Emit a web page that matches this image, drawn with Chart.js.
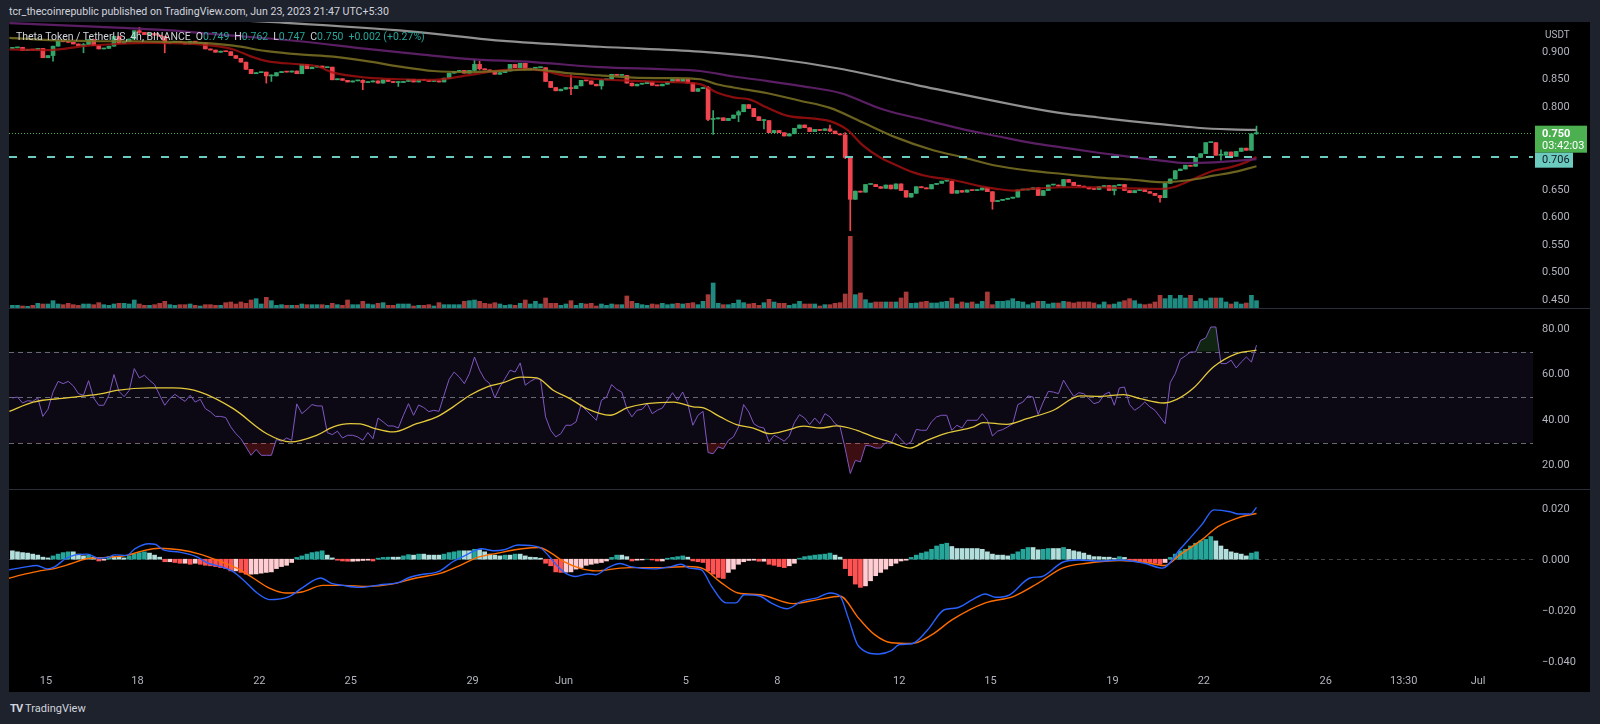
<!DOCTYPE html>
<html>
<head>
<meta charset="utf-8">
<title>THETAUSDT 4h</title>
<script src="https://cdn.jsdelivr.net/npm/chart.js@4.4.1/dist/chart.umd.min.js"></script>
<style>
  html, body { margin: 0; padding: 0; }
  body { width: 1600px; height: 724px; background: #1e222d; overflow: hidden; position: relative;
         font-family: Roboto, "Liberation Sans", sans-serif; }
  #pub { position: absolute; left: 9px; top: 5px; font-size: 10.6px; color: #d1d4dc; }
  #frame { position: absolute; left: 9px; top: 22px; width: 1581px; height: 670px; background: #000; }
  #frame canvas { position: absolute; left: 0; }
  .sep { position: absolute; left: 0; width: 1581px; height: 1px; background: #2a2e39; }
  #legend { position: absolute; left: 7px; top: 8px; font-size: 10.5px; color: #d1d4dc; white-space: nowrap; z-index: 2; }
  #legend span { margin-left: 5px; }
  #legend b { font-weight: normal; color: #26a69a; }
  #usdt { position: absolute; left: 1536px; top: 7px; font-size: 10px; color: #b2b5be; z-index: 2; }
  #brand { position: absolute; left: 10px; top: 702px; font-size: 11px; color: #d1d4dc; }
  #brand i { font-style: normal; font-weight: bold; letter-spacing: -1px; margin-right: 3px; }
</style>
</head>
<body>
<div id="pub">tcr_thecoinrepublic published on TradingView.com, Jun 23, 2023 21:47 UTC+5:30</div>
<div id="frame">
  <canvas id="cPrice" width="1581" height="286" style="top:0"></canvas>
  <div id="legend">Theta Token / TetherUS, 4h, BINANCE<span>O<b>0.749</b></span><span>H<b>0.762</b></span><span>L<b>0.747</b></span><span>C<b>0.750</b></span><span><b>+0.002 (+0.27%)</b></span></div>
  <div id="usdt">USDT</div>
  <div class="sep" style="top:286px"></div>
  <canvas id="cRsi" width="1581" height="180" style="top:287px"></canvas>
  <div class="sep" style="top:467px"></div>
  <canvas id="cMacd" width="1581" height="202" style="top:468px"></canvas>
</div>
<div id="brand"><i>TV</i>TradingView</div>

<script>
// 4h candles, first one opens May 13 21:30 (UTC+5:30); days counted from May 15 00:00
const firstBarDay = -2 + 21.5 / 24;
const barsPerDay = 6;

// close of every 4h candle
const closes = [
  0.904, 0.905, 0.899, 0.901, 0.900, 0.903, 0.886,
  0.890, 0.907, 0.916, 0.915, 0.914, 0.911,
  0.908, 0.910, 0.919, 0.908, 0.902, 0.903,
  0.907, 0.925, 0.912, 0.915, 0.920, 0.935,
  0.932, 0.928, 0.930, 0.927, 0.925, 0.912,
  0.914, 0.916, 0.914, 0.911, 0.916, 0.912,
  0.913, 0.902, 0.900, 0.896, 0.898, 0.897,
  0.890, 0.885, 0.878, 0.865, 0.857, 0.859,
  0.860, 0.853, 0.853, 0.859, 0.861, 0.860,
  0.862, 0.857, 0.874, 0.866, 0.869, 0.871,
  0.868, 0.869, 0.846, 0.848, 0.845, 0.842,
  0.844, 0.845, 0.841, 0.842, 0.844, 0.840,
  0.846, 0.843, 0.841, 0.841, 0.843, 0.847,
  0.842, 0.846, 0.845, 0.843, 0.844, 0.842,
  0.849, 0.858, 0.861, 0.863, 0.858, 0.863,
  0.874, 0.866, 0.864, 0.862, 0.856, 0.859,
  0.862, 0.874, 0.868, 0.876, 0.864, 0.867,
  0.868, 0.868, 0.843, 0.832, 0.826, 0.829,
  0.832, 0.830, 0.835, 0.845, 0.844, 0.838,
  0.835, 0.846, 0.847, 0.856, 0.854, 0.854,
  0.840, 0.835, 0.838, 0.839, 0.842, 0.836,
  0.835, 0.838, 0.842, 0.847, 0.843, 0.847,
  0.840, 0.825, 0.830, 0.832, 0.774, 0.775,
  0.777, 0.772, 0.776, 0.782, 0.788, 0.801,
  0.794, 0.779, 0.772, 0.772, 0.750, 0.754,
  0.750, 0.744, 0.748, 0.758, 0.764, 0.759,
  0.752, 0.756, 0.754, 0.757, 0.753, 0.748,
  0.746, 0.705, 0.629,
  0.644, 0.642, 0.656, 0.656, 0.652, 0.649, 0.655, 0.648, 0.657, 0.645,
  0.633, 0.640, 0.652, 0.650, 0.648, 0.656, 0.658, 0.662, 0.662, 0.640,
  0.645, 0.642, 0.646, 0.645, 0.646, 0.650, 0.643, 0.625, 0.627, 0.629,
  0.631, 0.633, 0.646, 0.646, 0.647, 0.650, 0.636, 0.645, 0.655, 0.655,
  0.653, 0.665, 0.660, 0.654, 0.653, 0.651, 0.648, 0.647, 0.652, 0.654,
  0.645, 0.654, 0.656, 0.645, 0.641, 0.645, 0.647, 0.643, 0.640, 0.636,
  0.632, 0.658, 0.666, 0.681, 0.684, 0.691, 0.689, 0.705, 0.712, 0.732,
  0.732, 0.709, 0.709, 0.715, 0.707, 0.716, 0.722, 0.718, 0.748, 0.750
];
const firstOpen = 0.903;

// candles whose wicks stick out visibly: [bar, low, high]
const wicks = [
  [8, 0.880, 0.907], [14, 0.895, 0.912], [25, 0.930, 0.941], [30, 0.895, 0.925],
  [50, 0.840, 0.860], [51, 0.843, 0.855], [69, 0.828, 0.846], [76, 0.834, 0.843],
  [91, 0.862, 0.883], [92, 0.864, 0.880], [110, 0.819, 0.855], [116, 0.829, 0.847],
  [137, 0.772, 0.834], [138, 0.747, 0.790], [143, 0.770, 0.790], [148, 0.757, 0.774],
  [161, 0.752, 0.764], [164, 0.703, 0.750], [165, 0.572, 0.705], [193, 0.611, 0.643],
  [217, 0.637, 0.654], [226, 0.624, 0.636], [238, 0.700, 0.719], [245, 0.747, 0.762]
];

// volume, relative
const volume = [
  8, 8, 6, 5, 8, 14, 12, 12, 22, 12, 10, 14, 10, 8, 12, 12, 10, 16, 10, 8,
  12, 14, 14, 12, 24, 12, 8, 8, 10, 14, 20, 10, 8, 10, 10, 12, 8, 6, 10, 10,
  8, 8, 16, 18, 12, 18, 14, 24, 28, 12, 32, 22, 8, 10, 8, 8, 8, 12, 10, 10,
  10, 10, 8, 14, 10, 8, 24, 10, 10, 20, 12, 10, 14, 16, 8, 8, 12,
  12, 12, 6, 8, 8, 10, 6, 16, 10, 10, 10, 10, 20, 22, 24, 20, 14, 12, 16, 12,
  8, 10, 8, 14, 24, 12, 20, 12, 30, 14, 14, 8, 12, 22, 8, 14, 12, 14, 6, 12,
  8, 12, 10, 10, 36, 20, 14, 10, 8, 12, 10, 14, 10, 12, 14, 12, 14, 16, 10, 20,
  40, 75, 14, 10, 10, 14, 24, 16, 12, 14, 8, 16, 26, 18, 14, 14, 8, 12, 20, 12,
  12, 12, 6, 10, 10, 14, 16,
  42, 215,
  40, 45, 25, 15, 18, 18, 18, 18, 18, 30, 48, 14, 15, 18, 20, 15, 15, 18, 20, 30,
  12, 18, 15, 18, 12, 20, 48, 10, 20, 20, 22, 28, 20, 18, 10, 15, 20, 20, 12,
  15, 15, 20, 18, 15, 18, 18, 18, 15, 10, 18, 10, 12, 18, 22, 28, 22, 12, 10,
  12, 18, 38, 28, 38, 28, 38, 30, 38, 20, 28, 22, 30, 30, 30, 18, 12, 18, 12, 15,
  38, 22
];

// moving averages on price: bar positions and values
const ma20Bars = [-0.6, 7.4, 14, 20.5, 27.1, 33.7, 40.2, 43.5, 46.8, 50.1, 56.6, 59.9, 63.2, 69.8, 76.3, 82.9, 89.5, 96, 101.3, 104.6, 109.2, 115.7, 122.3, 128.8, 135.4, 138.7, 142, 145.3, 148.5, 152.5, 158.4, 161, 164.3, 167.6, 170.9, 174.1, 177.4, 180.7, 184, 187.3, 190.5, 193.8, 197.1, 200.4, 206.9, 213.5, 220.1, 226.6, 228.6, 231.9, 236.5, 239.8, 243.1, 245];
const ma20 = [0.901, 0.900, 0.907, 0.911, 0.913, 0.912, 0.907, 0.901, 0.889, 0.880, 0.874, 0.871, 0.859, 0.850, 0.847, 0.846, 0.854, 0.863, 0.866, 0.862, 0.853, 0.847, 0.844, 0.842, 0.838, 0.823, 0.814, 0.810, 0.796, 0.781, 0.775, 0.771, 0.756, 0.726, 0.705, 0.691, 0.678, 0.670, 0.666, 0.660, 0.653, 0.648, 0.645, 0.648, 0.651, 0.651, 0.649, 0.648, 0.651, 0.663, 0.681, 0.687, 0.697, 0.706];
const ma50Bars = [-0.6, 7.4, 17.3, 23.8, 30.4, 37, 43.5, 50.1, 56.6, 63.2, 69.8, 76.3, 82.9, 89.5, 96, 102.6, 109.2, 115.7, 122.3, 128.8, 135.4, 138.7, 142, 148.5, 155.1, 161, 167.6, 174.1, 180.7, 187.3, 193.8, 200.4, 206.9, 213.5, 220.1, 226.6, 233.2, 236.5, 239.8, 245];
const ma50 = [0.922, 0.918, 0.916, 0.916, 0.915, 0.913, 0.908, 0.898, 0.892, 0.888, 0.880, 0.870, 0.862, 0.860, 0.862, 0.865, 0.858, 0.854, 0.850, 0.849, 0.847, 0.838, 0.832, 0.822, 0.808, 0.795, 0.768, 0.741, 0.720, 0.705, 0.690, 0.681, 0.675, 0.669, 0.665, 0.660, 0.666, 0.672, 0.677, 0.689];
const ma100Bars = [-0.6, 17.3, 30.4, 43.5, 56.6, 69.8, 80.3, 89.5, 102.6, 115.7, 128.8, 135.4, 142, 148.5, 155.1, 163, 171.5, 180.7, 187.3, 193.8, 200.4, 206.9, 213.5, 220.1, 226.6, 230.6, 236.5, 245];
const ma100 = [0.949, 0.942, 0.936, 0.926, 0.916, 0.902, 0.892, 0.884, 0.878, 0.869, 0.865, 0.862, 0.852, 0.844, 0.835, 0.822, 0.792, 0.771, 0.756, 0.744, 0.732, 0.723, 0.714, 0.706, 0.699, 0.695, 0.696, 0.702];
const ma200Bars = [-0.6, 27.1, 52.7, 78.3, 96, 115.7, 135.4, 148.6, 163, 178.3, 200.4, 206.9, 213.6, 220.1, 226.6, 233.3, 239.8, 245];
const ma200 = [0.975, 0.962, 0.950, 0.934, 0.917, 0.906, 0.897, 0.886, 0.866, 0.836, 0.795, 0.785, 0.778, 0.771, 0.765, 0.759, 0.756, 0.755];

// RSI per candle
const rsi = [
  49.7, 50.1, 47.5, 48.5, 48.2, 49.7, 41.6, 44.7, 52.3, 57.0,
  56.0, 57.0, 55.0, 51.6, 50.9, 57.3, 49.7, 46.5, 46.5, 50.9,
  60.0, 52.6, 50.3, 53.0, 62.6, 58.5, 59.7, 57.5, 55.6, 50.9,
  46.5, 49.4, 51.3, 49.7, 48.2, 50.9, 47.9, 49.1, 45.0, 43.6,
  41.6, 41.6, 41.1, 37.0, 34.0, 31.8, 28.2, 24.5, 27.1, 24.5,
  24.5, 24.5, 31.5, 30.7, 32.1, 31.1, 47.1, 42.8, 44.7, 46.8,
  46.2, 46.2, 34.5, 33.6, 35.1, 32.1, 33.3, 33.3, 32.6, 31.1,
  34.5, 31.8, 40.9, 39.2, 37.4, 37.4, 36.5, 42.1, 47.2, 42.1,
  46.6, 45.5, 43.7, 44.3,
  43.8, 50.9, 57.9, 61.1, 58.9, 56.0, 60.4, 67.7, 61.9, 57.9,
  56.0, 49.7, 54.5, 58.2, 61.9, 61.1, 65.1, 55.3, 57.0, 58.2,
  57.9, 41.4, 35.5, 32.6, 34.0, 37.7, 37.7, 39.2, 46.8, 44.3,
  42.1, 39.9, 48.7, 50.1, 55.6, 53.5, 52.3, 45.0, 41.4, 44.3,
  44.7, 47.2, 42.8, 44.3, 45.3, 48.7, 52.0, 48.7, 52.3, 47.2,
  37.7, 42.1, 43.8, 25.7, 25.2, 28.2, 27.4, 31.1, 32.6, 37.0,
  46.8, 43.6, 38.4, 37.0, 36.5, 30.4, 33.3, 32.1, 30.7, 33.0,
  38.9, 42.4, 40.9, 38.0, 40.9, 38.4, 42.8, 41.4, 38.4, 37.0,
  27.4, 16.5, 22.3, 21.6, 28.9, 28.6, 27.7, 27.7, 30.1, 29.6,
  34.0, 31.5, 29.2, 30.4, 35.9, 35.5, 35.5, 39.2, 41.4, 42.1,
  42.1, 35.5, 37.7, 36.5, 39.9, 39.9, 39.9, 42.8, 39.9, 33.0,
  35.1, 35.8, 37.0, 38.4, 46.8, 47.9, 50.6, 50.1, 42.4, 47.9,
  52.6, 52.3, 51.6, 57.5, 53.8, 50.4, 52.0, 51.6, 49.4, 47.2,
  47.9, 51.2, 52.3, 46.5, 54.1, 54.5, 46.8, 44.3, 45.8, 47.9,
  45.8, 44.3, 41.4, 38.4, 56.4, 60.4, 66.7, 68.2, 69.9, 69.9,
  75.0, 76.1, 80.9, 80.9, 64.8, 64.8, 66.3, 62.9, 65.5, 67.7,
  65.5, 72.9
];
const rsiMaBars = [-0.6, 4.1, 10.7, 17.3, 20.5, 27.1, 31.7, 37, 43.5, 50.1, 54.7, 59.9, 63.2, 66.5, 68.5, 71.1, 75, 79.6, 83.6, 86.8, 90.1, 93.4, 96.7, 100, 103.3, 106.5, 109.8, 113.1, 117.7, 121, 124.9, 130.2, 134.1, 136.1, 139.4, 142.6, 145.9, 149.2, 152.5, 155.8, 159.1, 162.3, 166.3, 169.6, 172.8, 176.8, 180.1, 184, 189.3, 191.2, 195.8, 199.8, 205, 210.3, 214.2, 218.8, 222.1, 226.7, 229.3, 232.6, 236.5, 241.1, 245];
const rsiMa = [43.8, 47.9, 49.7, 51.5, 53.0, 54.1, 54.1, 52.3, 45.0, 34.0, 30.4, 33.3, 37.0, 38.4, 38.3, 36.5, 34.8, 38.4, 41.4, 45.8, 50.9, 54.5, 56.4, 58.9, 58.5, 53.1, 49.4, 45.0, 42.1, 45.3, 47.2, 47.9, 45.8, 45.3, 41.4, 38.0, 36.5, 34.0, 35.5, 37.3, 36.5, 37.4, 35.5, 32.6, 30.4, 27.7, 31.1, 34.3, 37.0, 38.9, 38.1, 40.6, 44.3, 50.6, 50.4, 51.2, 49.4, 47.5, 49.1, 54.1, 63.3, 69.2, 70.7];
const rsiLevels = [70, 50, 30];

// MACD (12, 26, 9)
const macdBars = [-0.67, 2.4, 4.8, 6.8, 8.4, 10.4, 12.4, 14.8, 16.9, 18.9, 20.1, 22.5, 24.1, 26.9, 28.1, 29.7, 32.9, 36.1, 38.6, 41, 43.4, 45.8, 48.2, 50.6, 54.6, 57, 60.7, 62.7, 65.1, 68.3, 72.3, 76.3, 77.9, 80.3, 84, 86.8, 89.2, 92.4, 94.8, 96.8, 99.6, 102, 104.1, 105.7, 107.7, 108.9, 110.9, 113.3, 114.9, 117.3, 119.7, 121.7, 126.4, 129.7, 131.7, 133.3, 135.7, 137.7, 140.5, 142.5, 144.1, 147.3, 149.4, 152.6, 155.4, 158.6, 161, 163, 164.6, 166.6, 170.7, 173.1, 174.7, 177.1, 180.3, 183.5, 185.9, 189.1, 191.6, 193.6, 196.4, 200.4, 202.8, 206.8, 210, 214.1, 218.1, 222.9, 226.5, 230.1, 234.2, 236.6, 239.8, 241.4, 243.8, 245];
const macd = [-0.0042, -0.0031, -0.0025, -0.0038, -0.0029, 0.0001, 0.0017, 0.0020, 0.0004, 0.0007, 0.0017, 0.0015, 0.0041, 0.0061, 0.0059, 0.0037, 0.0028, 0.0011, -0.0016, -0.0029, -0.0048, -0.0088, -0.0133, -0.0159, -0.0146, -0.0114, -0.0074, -0.0094, -0.0103, -0.0111, -0.0101, -0.0090, -0.0074, -0.0061, -0.0048, -0.0009, 0.0015, 0.0041, 0.0033, 0.0037, 0.0056, 0.0054, 0.0043, 0.0011, -0.0035, -0.0055, -0.0068, -0.0058, -0.0061, -0.0033, -0.0017, -0.0029, -0.0038, -0.0029, -0.0020, -0.0035, -0.0042, -0.0107, -0.0172, -0.0172, -0.0140, -0.0146, -0.0172, -0.0195, -0.0166, -0.0151, -0.0133, -0.0146, -0.0231, -0.0342, -0.0373, -0.0360, -0.0336, -0.0333, -0.0277, -0.0199, -0.0192, -0.0159, -0.0137, -0.0150, -0.0140, -0.0074, -0.0068, -0.0012, -0.0003, -0.0007, -0.0003, -0.0016, -0.0035, 0.0043, 0.0135, 0.0194, 0.0187, 0.0178, 0.0178, 0.0204];
const signalBars = [-0.67, 2.4, 5.6, 8, 11.2, 14.4, 18.5, 22.5, 25.7, 28.9, 32.9, 36.9, 41, 44.2, 47.4, 50.6, 53.8, 57, 61.1, 65.1, 69.9, 74.7, 79.5, 84.4, 88.4, 91.6, 95.6, 100.4, 103.7, 106.1, 108.5, 111.7, 114.9, 119.7, 121.6, 128.1, 132.9, 136.1, 139.3, 142.9, 147.3, 153.8, 158.6, 163, 166.6, 169.8, 173.1, 177.1, 181.1, 185.1, 191.6, 197.2, 202, 206.8, 211.6, 218.1, 222.9, 226.9, 230.1, 234.2, 237.4, 241.4, 245];
const signal = [-0.0075, -0.0059, -0.0045, -0.0038, -0.0020, 0.0001, 0.0007, 0.0015, 0.0033, 0.0043, 0.0037, 0.0020, -0.0009, -0.0035, -0.0074, -0.0114, -0.0133, -0.0129, -0.0103, -0.0103, -0.0107, -0.0098, -0.0074, -0.0055, -0.0022, 0.0007, 0.0024, 0.0041, 0.0046, 0.0024, -0.0009, -0.0035, -0.0046, -0.0035, -0.0033, -0.0033, -0.0029, -0.0038, -0.0088, -0.0133, -0.0140, -0.0175, -0.0159, -0.0146, -0.0231, -0.0297, -0.0329, -0.0332, -0.0297, -0.0238, -0.0172, -0.0146, -0.0094, -0.0035, -0.0016, -0.0005, -0.0012, -0.0025, 0.0020, 0.0076, 0.0128, 0.0163, 0.0180];
const histogram = [
  0.0033, 0.0029, 0.0026, 0.0024, 0.0020, 0.0016, 0.0008, 0.0005, 0.0013, 0.0020,
  0.0026, 0.0029, 0.0029, 0.0020, 0.0013, 0.0016, 0.0008, -0.0007, -0.0004, 0.0010,
  0.0010, 0.0008, 0.0005, 0.0013, 0.0020, 0.0026, 0.0029, 0.0024, 0.0016, 0.0008,
  -0.0010, -0.0010, -0.0013, -0.0016, -0.0016, -0.0020, -0.0016, -0.0020, -0.0024, -0.0026,
  -0.0029, -0.0033, -0.0037, -0.0046, -0.0046, -0.0052, -0.0059, -0.0059, -0.0058, -0.0055,
  -0.0052, -0.0050, -0.0037, -0.0029, -0.0024, -0.0013, 0.0007, 0.0013, 0.0020, 0.0026,
  0.0029, 0.0033, 0.0016, 0.0005, -0.0004, -0.0007, -0.0008, -0.0008, -0.0007, -0.0005,
  -0.0004, -0.0007, 0.0004, 0.0007, 0.0008, 0.0008, 0.0008, 0.0013, 0.0018, 0.0016,
  0.0020, 0.0020, 0.0016, 0.0016, 0.0016, 0.0020, 0.0026, 0.0029, 0.0033, 0.0033,
  0.0033, 0.0039, 0.0037, 0.0029, 0.0020, 0.0016, 0.0013, 0.0016, 0.0016, 0.0020,
  0.0020, 0.0013, 0.0008, 0.0007, 0.0004, -0.0016, -0.0026, -0.0050, -0.0052, -0.0051,
  -0.0050, -0.0039, -0.0033, -0.0024, -0.0020, -0.0016, -0.0013, -0.0007, 0.0007, 0.0016,
  0.0016, 0.0010,
  -0.0007, -0.0004, -0.0003, 0.0000, -0.0003, -0.0007, -0.0007, 0.0004, 0.0007, 0.0010, 0.0013, 0.0008,
  -0.0007, -0.0010, -0.0013, -0.0046, -0.0059, -0.0072, -0.0076, -0.0052, -0.0039, -0.0020,
  -0.0010, -0.0005, -0.0004, -0.0008, -0.0008, -0.0020, -0.0024, -0.0029, -0.0033, -0.0026,
  -0.0016, 0.0004, 0.0010, 0.0013, 0.0016, 0.0018, 0.0020, 0.0024, 0.0016, 0.0008,
  -0.0037, -0.0065, -0.0098, -0.0111, -0.0105, -0.0085, -0.0065, -0.0052, -0.0039, -0.0026,
  -0.0016, -0.0007, -0.0004, 0.0007, 0.0016, 0.0024, 0.0029, 0.0039, 0.0052, 0.0059,
  0.0063, 0.0050, 0.0042, 0.0042, 0.0042, 0.0042, 0.0042, 0.0039, 0.0029, 0.0020,
  0.0016, 0.0016, 0.0013, 0.0020, 0.0029, 0.0039, 0.0046, 0.0046, 0.0037, 0.0039,
  0.0042, 0.0042, 0.0042, 0.0046, 0.0039, 0.0033, 0.0029, 0.0024, 0.0016, 0.0010,
  0.0010, 0.0008, 0.0008, 0.0004, 0.0010, 0.0007, -0.0004, -0.0007, -0.0008, -0.0010,
  -0.0013, -0.0016, -0.0020, -0.0013,
  0.0007, 0.0020, 0.0033, 0.0039, 0.0052, 0.0063, 0.0072, 0.0078, 0.0089, 0.0072,
  0.0052, 0.0039, 0.0029, 0.0024, 0.0020, 0.0013, 0.0024, 0.0029
];

// axes
const priceTicks = [0.45, 0.50, 0.55, 0.60, 0.65, 0.80, 0.85, 0.90];
const rsiTicks = [20, 40, 60, 80];
const macdTicks = [-0.04, -0.02, 0, 0.02];
const timeLabels = ['15', '18', '22', '25', '29', 'Jun', '5', '8', '12', '15', '19', '22', '26', '13:30', 'Jul'];
const timeDays = [0, 3, 7, 10, 14, 17, 21, 24, 28, 31, 35, 38, 42, 44 + 13.5 / 24, 47];
const levelLine = 0.706;
const countdown = '03:42:03';

// ---------------------------------------------------------------
const UP = '#33a66a', DOWN = '#f0444f';
const VOL_UP = '#1f8a80', VOL_DOWN = '#a83a3a';
const AXIS_W = 57;
const X_MIN = -0.67, X_MAX = 299.45;

Chart.defaults.font.family = 'Roboto, "Liberation Sans", sans-serif';
Chart.defaults.font.size = 11;
Chart.defaults.color = '#b2b5be';

const bars = closes.map((_, i) => i);
const opens = closes.map((c, i) => i ? closes[i - 1] : firstOpen);
const lows = closes.map((c, i) => Math.min(c, opens[i]));
const highs = closes.map((c, i) => Math.max(c, opens[i]));
wicks.forEach(([i, lo, hi]) => { lows[i] = Math.min(lows[i], lo); highs[i] = Math.max(highs[i], hi); });
const candleColor = bars.map(i => closes[i] >= opens[i] ? UP : DOWN);
const lastPrice = closes[closes.length - 1];

const pts = (xs, ys) => xs.map((x, k) => ({ x, y: ys[k] }));
// keep the plot areas flush with the canvas edges
const noPad = s => { s.paddingTop = 0; s.paddingBottom = 0; s.paddingLeft = 0; s.paddingRight = 0; };
const xHidden = { type: 'linear', min: X_MIN, max: X_MAX, display: false, offset: false };
const rightAxis = (min, max, ticks, fmt, shift = 0) => ({
  position: 'right', min, max,
  afterFit: s => { s.width = AXIS_W; noPad(s); },
  afterBuildTicks: s => { s.ticks = ticks.map(v => ({ value: v })); },
  grid: { display: false, drawTicks: false },
  border: { display: false },
  ticks: { padding: 9, labelOffset: shift, callback: fmt }
});
const lineDs = (data, color, width, order) => ({
  type: 'line', data, borderColor: color, borderWidth: width, pointRadius: 0,
  cubicInterpolationMode: 'monotone', order
});
const baseOpts = {
  responsive: false, animation: false, devicePixelRatio: 1,
  layout: { padding: 0, autoPadding: false },
  plugins: { legend: { display: false }, tooltip: { enabled: false } }
};

// price pane ------------------------------------------------------
const priceDecor = {
  id: 'priceDecor',
  beforeDatasetsDraw(chart) {
    const { ctx, chartArea: a, scales: { y } } = chart;
    const yl = Math.round(y.getPixelForValue(lastPrice)) + 0.5;
    ctx.save();
    ctx.strokeStyle = '#4caf50';
    ctx.lineWidth = 1;
    ctx.setLineDash([1, 2]);
    ctx.beginPath(); ctx.moveTo(a.left, yl); ctx.lineTo(a.right, yl); ctx.stroke();
    ctx.restore();
  },
  afterDatasetsDraw(chart) {
    const { ctx, chartArea: a, scales: { y } } = chart;
    const yh = Math.round(y.getPixelForValue(levelLine));
    ctx.save();
    ctx.strokeStyle = '#6ccbbf';
    ctx.lineWidth = 2;
    ctx.setLineDash([8, 11]);
    ctx.beginPath(); ctx.moveTo(a.left, yh); ctx.lineTo(a.right, yh); ctx.stroke();
    ctx.restore();
  },
  afterDraw(chart) {
    const { ctx, chartArea: a, scales: { y } } = chart;
    const yl = y.getPixelForValue(lastPrice);
    const x0 = a.right + 2;
    ctx.save();
    ctx.fillStyle = '#4caf50';
    ctx.fillRect(x0, yl - 7, 52, 27);
    ctx.fillStyle = '#ffffff';
    ctx.textBaseline = 'middle';
    ctx.font = 'bold 11px Roboto, "Liberation Sans", sans-serif';
    ctx.fillText(lastPrice.toFixed(3), x0 + 7, yl + 1.5);
    ctx.font = '11px Roboto, "Liberation Sans", sans-serif';
    ctx.fillText(countdown, x0 + 7, yl + 13.5);
    ctx.fillStyle = '#6ccbbf';
    ctx.fillRect(x0, yl + 20, 38, 15);
    ctx.fillStyle = '#131722';
    ctx.fillText(levelLine.toFixed(3), x0 + 7, yl + 28);
    ctx.restore();
  }
};

new Chart(document.getElementById('cPrice'), {
  type: 'bar',
  data: {
    datasets: [
      lineDs(pts(ma200Bars, ma200), 'rgba(160,160,160,0.9)', 2.2, 0),
      lineDs(pts(ma100Bars, ma100), 'rgba(100,34,110,0.9)', 2.2, 0),
      lineDs(pts(ma50Bars, ma50), 'rgba(125,115,35,0.85)', 2.2, 0),
      lineDs(pts(ma20Bars, ma20), 'rgba(170,18,18,0.8)', 2.2, 0),
      { data: bars.map(i => ({ x: i, y: [Math.min(opens[i], closes[i]), Math.max(opens[i], closes[i])] })),
        backgroundColor: candleColor, barThickness: 4, minBarLength: 1, grouped: false, order: 1 },
      { data: bars.map(i => ({ x: i, y: [lows[i], highs[i]] })),
        backgroundColor: candleColor, barThickness: 1, grouped: false, order: 2 },
      { data: bars.map(i => ({ x: i, y: volume[i] })), yAxisID: 'vol',
        backgroundColor: bars.map(i => closes[i] >= opens[i] ? VOL_UP : VOL_DOWN),
        barThickness: 4, grouped: false, order: 3 }
    ]
  },
  options: {
    ...baseOpts,
    scales: {
      x: xHidden,
      y: rightAxis(0.4318, 0.9509, priceTicks, v => v.toFixed(3), 2),
      vol: { position: 'left', display: false, min: 0, max: 858 }
    }
  },
  plugins: [priceDecor]
});

// RSI pane --------------------------------------------------------
const rsiBands = {
  id: 'rsiBands',
  beforeDatasetsDraw(chart) {
    const { ctx, chartArea: a, scales: { y } } = chart;
    const top = y.getPixelForValue(rsiLevels[0]), bot = y.getPixelForValue(rsiLevels[2]);
    ctx.save();
    ctx.fillStyle = 'rgba(126,87,194,0.1)';
    ctx.fillRect(a.left, top, a.right - a.left, bot - top);
    ctx.strokeStyle = 'rgba(120,123,134,0.85)';
    ctx.lineWidth = 1;
    ctx.setLineDash([5, 4]);
    rsiLevels.forEach(v => {
      const p = Math.round(y.getPixelForValue(v)) + 0.5;
      ctx.beginPath(); ctx.moveTo(a.left, p); ctx.lineTo(a.right, p); ctx.stroke();
    });
    ctx.restore();
  }
};

const rsiPts = bars.map(i => ({ x: i, y: rsi[i] }));
new Chart(document.getElementById('cRsi'), {
  type: 'line',
  data: {
    datasets: [
      { data: rsiPts, borderColor: '#7e57c2', borderWidth: 1, pointRadius: 0, order: 1,
        fill: { target: { value: 70 }, above: 'rgba(76,175,80,0.22)', below: 'rgba(0,0,0,0)' } },
      { data: rsiPts, borderColor: 'rgba(0,0,0,0)', borderWidth: 0, pointRadius: 0, order: 2,
        fill: { target: { value: 30 }, above: 'rgba(0,0,0,0)', below: 'rgba(242,54,69,0.25)' } },
      lineDs(pts(rsiMaBars, rsiMa), '#e3c93b', 1.3, 0)
    ]
  },
  options: {
    ...baseOpts,
    scales: {
      x: xHidden,
      y: rightAxis(9.7, 88.8, rsiTicks, v => v.toFixed(2))
    }
  },
  plugins: [rsiBands]
});

// MACD pane -------------------------------------------------------
const zeroLine = {
  id: 'zeroLine',
  beforeDatasetsDraw(chart) {
    const { ctx, chartArea: a, scales: { y } } = chart;
    const p = Math.round(y.getPixelForValue(0)) + 0.5;
    ctx.save();
    ctx.strokeStyle = 'rgba(120,123,134,0.55)';
    ctx.setLineDash([4, 4]);
    ctx.beginPath(); ctx.moveTo(a.left, p); ctx.lineTo(a.right, p); ctx.stroke();
    ctx.restore();
  }
};

const histColor = bars.map(i => {
  const h = histogram[i], prev = i ? histogram[i - 1] : h;
  if (h >= 0) return h > prev ? '#26a69a' : '#b2dfdb';
  return h < prev ? '#ff5252' : '#ffcdd2';
});
const timeTicks = timeDays.map(d => (d - firstBarDay) * barsPerDay);
const fmtMacd = v => (v < 0 ? '\u2212' : '') + Math.abs(v).toFixed(3);

new Chart(document.getElementById('cMacd'), {
  type: 'bar',
  data: {
    datasets: [
      lineDs(pts(macdBars, macd), '#2962ff', 1.4, 0),
      lineDs(pts(signalBars, signal), '#ff6d00', 1.4, 1),
      { data: bars.map(i => ({ x: i, y: histogram[i] })), backgroundColor: histColor,
        barThickness: 4, grouped: false, order: 2 }
    ]
  },
  options: {
    ...baseOpts,
    scales: {
      x: {
        type: 'linear', min: X_MIN, max: X_MAX, offset: false,
        afterFit: s => { s.height = 24; noPad(s); },
        afterBuildTicks: s => { s.ticks = timeTicks.map(v => ({ value: v })); },
        grid: { display: false, drawTicks: false },
        border: { display: false },
        ticks: { autoSkip: false, maxRotation: 0, padding: 7, callback: (v, k) => timeLabels[k] }
      },
      y: rightAxis(-0.04283, 0.02724, macdTicks, fmtMacd, 1)
    }
  },
  plugins: [zeroLine]
});
</script>
</body>
</html>
